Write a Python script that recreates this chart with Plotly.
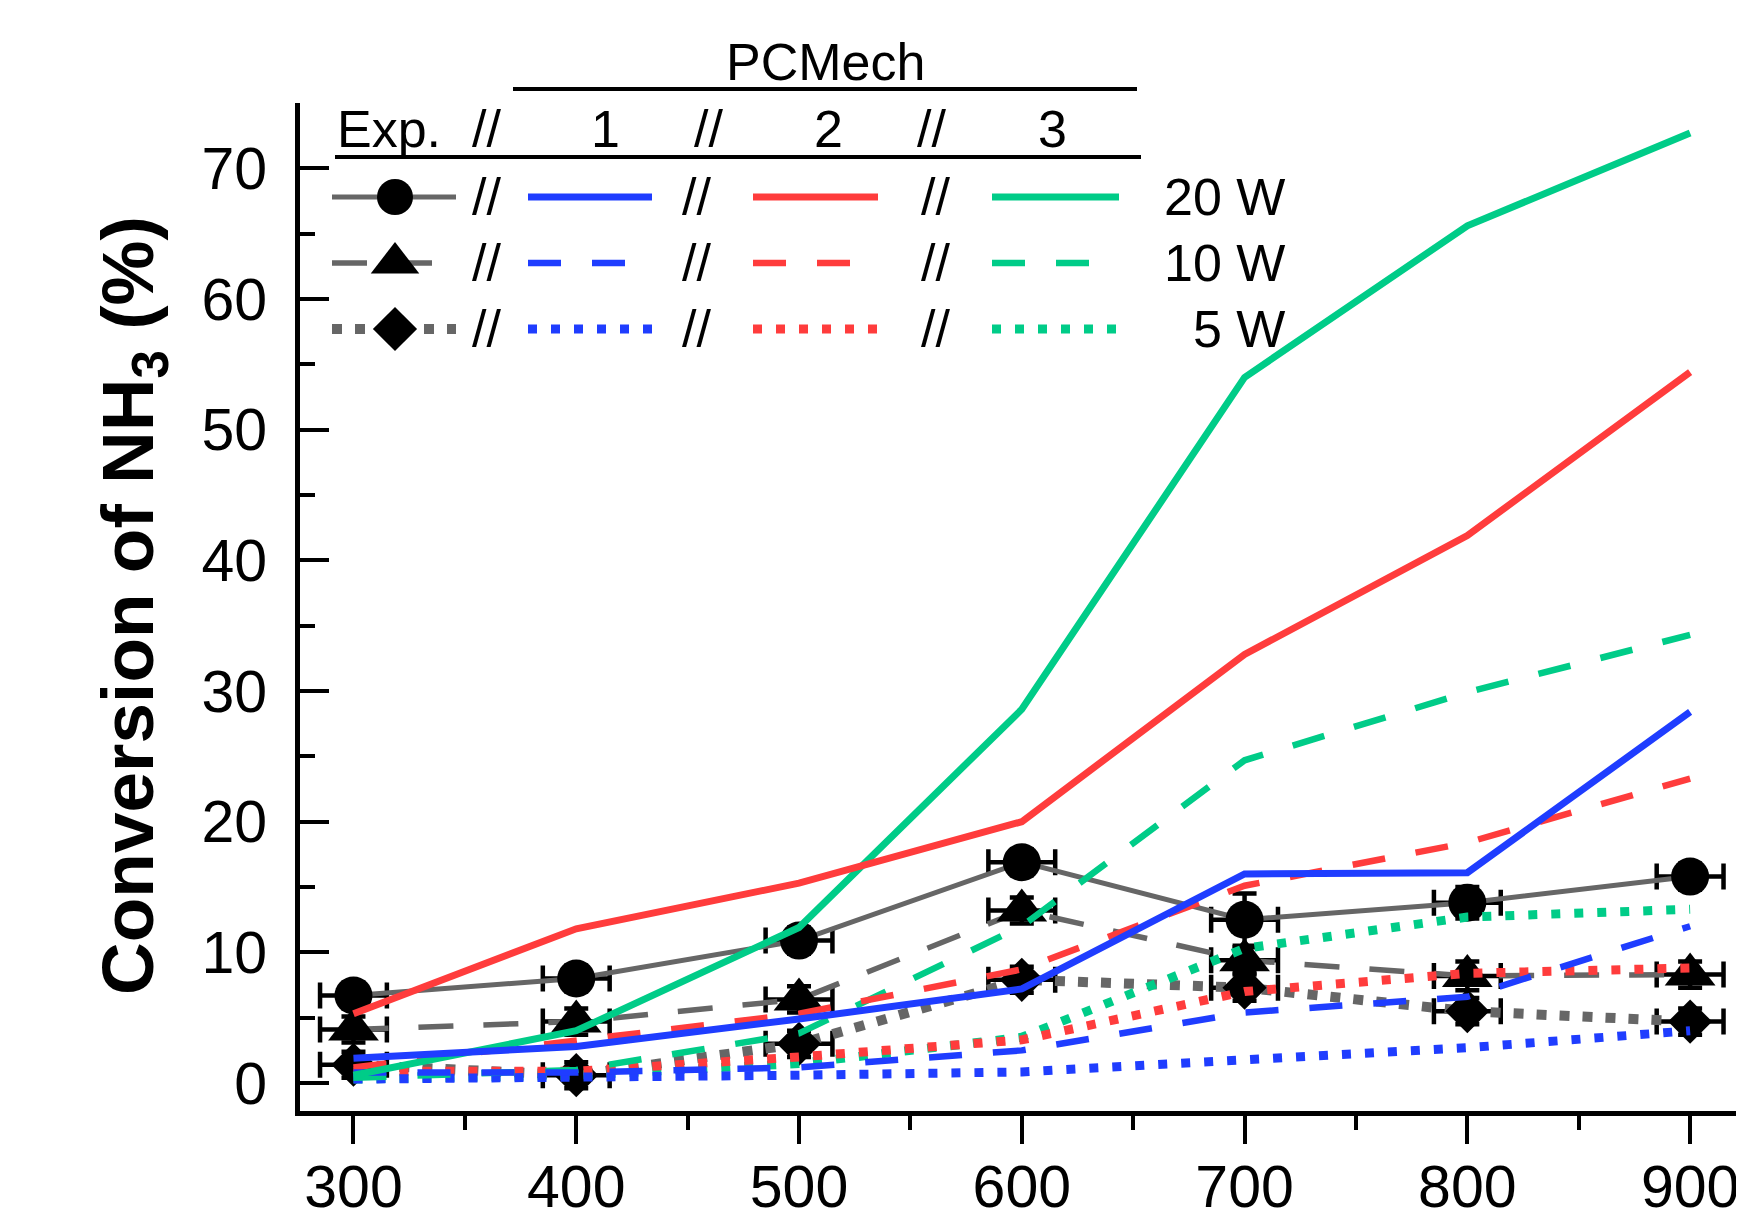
import plotly.graph_objects as go

# ---------------- data ----------------
temps = [300, 400, 500, 600, 700, 800, 900]

exp_20w = [6.7, 8.0, 10.9, 16.9, 12.5, 13.8, 15.8]
exp_10w = [4.1, 4.7, 6.4, 13.2, 9.4, 8.2, 8.3]
exp_5w = [1.4, 0.6, 3.0, 7.9, 7.3, 5.5, 4.7]
exp_xerr = [15, 15, 15, 15, 15, 15, 15]
exp_yerr_20w = [1.0, 1.0, 1.0, 1.0, 2.0, 1.2, 1.0]
exp_yerr_10w = [1.0, 1.0, 1.0, 1.0, 1.0, 1.1, 1.0]
exp_yerr_5w = [1.0, 1.0, 1.0, 1.0, 1.0, 1.0, 1.0]

m1_20w = [1.9, 2.8, 4.9, 7.2, 16.0, 16.1, 28.4]
m1_10w = [0.8, 0.8, 1.2, 2.5, 5.4, 6.6, 12.0]
m1_5w = [0.3, 0.4, 0.6, 0.85, 1.8, 2.7, 4.0]

m2_20w = [5.3, 11.8, 15.3, 20.0, 32.8, 41.9, 54.4]
m2_10w = [1.2, 3.3, 5.3, 8.7, 15.1, 18.4, 23.3]
m2_5w = [0.9, 0.9, 2.0, 3.3, 7.0, 8.4, 8.8]

m3_20w = [0.6, 4.0, 11.9, 28.6, 54.0, 65.6, 72.7]
m3_10w = [0.4, 1.0, 3.8, 12.0, 24.7, 29.9, 34.3]
m3_5w = [0.3, 0.6, 1.5, 3.5, 10.3, 12.7, 13.3]

x_ticks = [300, 400, 500, 600, 700, 800, 900]
y_ticks = [0, 10, 20, 30, 40, 50, 60, 70]
header_labels = ["Exp.", "1", "2", "3"]
power_labels = ["20 W", "10 W", "5 W"]

# ---------------- styles ----------------
FONT = "Liberation Sans, Arial, sans-serif"
GRAY = "#666666"
BLUE = "#1f3dff"
RED = "#ff3c3c"
GREEN = "#00cc88"
COLORS = [BLUE, RED, GREEN]
DASH = "33px,31px"
DOT = "9px,14px"
GDASH = "35px,30px"
GDOT = "10px,13px"

OFF = 8  # page body margin
W, H = 1744 - 2 * OFF, 1223 - 2 * OFF
ML, MR, MT, MB = 292, 0, 95, 104
PW, PH = W - ML - MR, H - MT - MB


def px(x):
    return (x - OFF - ML) / PW


def py(y):
    return (H - MB - (y - OFF)) / PH


fig = go.Figure()

err_x = dict(type="data", array=exp_xerr, visible=True, color="black",
             thickness=4.5, width=13)

exp_series = [
    (exp_20w, exp_yerr_20w, "solid", 5, "circle", 38),
    (exp_10w, exp_yerr_10w, GDASH, 5.5, "triangle-up", 44),
    (exp_5w, exp_yerr_5w, GDOT, 10, "diamond", 34),
]
for vals, yerr, dash, lw, sym, size in exp_series:
    fig.add_trace(go.Scatter(
        x=temps, y=vals, mode="lines+markers",
        line=dict(color=GRAY, width=lw, dash=dash),
        marker=dict(symbol=sym, size=size, color="black", line=dict(width=0)),
        error_x=err_x,
        error_y=dict(type="data", array=yerr, visible=True, color="black",
                     thickness=4.5, width=12),
        showlegend=False, cliponaxis=False))

model_series = [
    (m3_5w, GREEN, DOT, 9), (m2_5w, RED, DOT, 9), (m1_5w, BLUE, DOT, 9),
    (m3_10w, GREEN, DASH, 6.5), (m2_10w, RED, DASH, 6.5), (m1_10w, BLUE, DASH, 6.5),
    (m3_20w, GREEN, "solid", 7), (m2_20w, RED, "solid", 7), (m1_20w, BLUE, "solid", 7),
]
for vals, col, dash, lw in model_series:
    fig.add_trace(go.Scatter(
        x=temps, y=vals, mode="lines",
        line=dict(color=col, width=lw, dash=dash),
        showlegend=False))

# ---------------- custom legend ----------------
rows_y = [197, 263, 329]
row_styles = [
    ("solid", 5, "solid", 7, "circle", 36),
    (GDASH, 5.5, DASH, 6.5, "triangle-up", 42),
    (GDOT, 10, DOT, 9, "diamond", 34),
]
model_seg = [(528, 652), (753, 878), (992, 1119)]
for ry, (gdash, glw, mdash, mlw, sym, msize) in zip(rows_y, row_styles):
    fig.add_trace(go.Scatter(
        x=[px(332), px(456)], y=[py(ry), py(ry)], mode="lines",
        line=dict(color=GRAY, width=glw, dash=gdash),
        xaxis="x2", yaxis="y2", showlegend=False, hoverinfo="skip"))
    fig.add_trace(go.Scatter(
        x=[px(395)], y=[py(ry)], mode="markers",
        marker=dict(symbol=sym, size=msize, color="black", line=dict(width=0)),
        xaxis="x2", yaxis="y2", showlegend=False, hoverinfo="skip"))
    for (x0, x1), col in zip(model_seg, COLORS):
        fig.add_trace(go.Scatter(
            x=[px(x0), px(x1)], y=[py(ry), py(ry)], mode="lines",
            line=dict(color=col, width=mlw, dash=mdash),
            xaxis="x2", yaxis="y2", showlegend=False, hoverinfo="skip"))

annotations = []


def txt(s, x, y, size=52, xanchor="center", **kw):
    annotations.append(dict(text=s, x=px(x), y=py(y), xref="paper", yref="paper",
                            showarrow=False, xanchor=xanchor, yanchor="middle",
                            font=dict(family=FONT, size=size, color="black"), **kw))


txt("PCMech", 825, 62)
for lab, xc in zip(header_labels, [389, 605, 828, 1052]):
    txt(lab, xc, 129)
for xc in [486, 708, 931]:
    txt("//", xc, 129)
for ry, lab in zip(rows_y, power_labels):
    for xc in [486, 696, 935]:
        txt("//", xc, ry)
    txt(lab, 1287, ry, xanchor="right")

txt("<b>Conversion of NH<sub>3</sub> (%)</b>", 133, 606, size=73, textangle=-90)

shapes = [
    dict(type="line", xref="paper", yref="paper", x0=px(513), x1=px(1137),
         y0=py(89), y1=py(89), line=dict(color="black", width=4)),
    dict(type="line", xref="paper", yref="paper", x0=px(335), x1=px(1141),
         y0=py(157), y1=py(157), line=dict(color="black", width=4)),
]

fig.update_layout(
    width=W, height=H, autosize=False,
    margin=dict(l=ML, r=MR, t=MT, b=MB, pad=0, autoexpand=False),
    paper_bgcolor="white", plot_bgcolor="white",
    font=dict(family=FONT, color="black"),
    annotations=annotations, shapes=shapes,
    xaxis=dict(range=[276.0, 920.6], tickvals=x_ticks,
               ticktext=[str(v) for v in x_ticks],
               automargin=False, ticklabeloverflow="allow",
               ticklabelstandoff=-8,
               showline=True, linecolor="black", linewidth=5,
               ticks="outside", ticklen=28, tickwidth=4, tickcolor="black",
               minor=dict(dtick=50, tick0=300, ticks="outside", ticklen=14,
                          tickwidth=4, tickcolor="black"),
               showgrid=False, zeroline=False,
               tickfont=dict(family=FONT, size=59, color="black")),
    yaxis=dict(range=[-2.14, 75], tickvals=y_ticks,
               ticktext=[str(v) for v in y_ticks],
               automargin=False, ticklabeloverflow="allow",
               showline=True, linecolor="black", linewidth=5,
               ticks="inside", ticklen=29, tickwidth=4, tickcolor="black",
               minor=dict(dtick=5, tick0=0, ticks="inside", ticklen=15,
                          tickwidth=4, tickcolor="black"),
               showgrid=False, zeroline=False, ticklabelstandoff=16,
               tickfont=dict(family=FONT, size=59, color="black")),
    xaxis2=dict(range=[0, 1], overlaying="x", visible=False, fixedrange=True),
    yaxis2=dict(range=[0, 1], overlaying="y", visible=False, fixedrange=True),
)

fig.write_html("out.html")
